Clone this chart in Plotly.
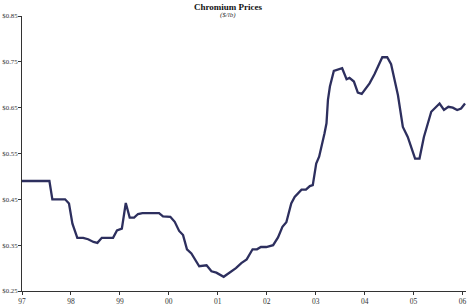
import plotly.graph_objects as go

years = [1997.00, 1997.56, 1997.62, 1997.88, 1997.96, 1998.03, 1998.13, 1998.25, 1998.35, 1998.46,
         1998.54, 1998.63, 1998.86, 1998.94, 1999.04, 1999.12, 1999.20, 1999.29, 1999.37, 1999.46,
         1999.80, 1999.88, 2000.03, 2000.12, 2000.21, 2000.29, 2000.37, 2000.46, 2000.62, 2000.77,
         2000.87, 2000.97, 2001.12, 2001.24, 2001.37, 2001.48, 2001.59, 2001.71, 2001.80, 2001.88,
         2001.99, 2002.13, 2002.23, 2002.32, 2002.40, 2002.50, 2002.57, 2002.71, 2002.80, 2002.88,
         2002.94, 2003.01, 2003.07, 2003.18, 2003.22, 2003.25, 2003.29, 2003.37, 2003.54, 2003.63,
         2003.69, 2003.78, 2003.86, 2003.94, 2004.10, 2004.20, 2004.36, 2004.46, 2004.54, 2004.68,
         2004.78, 2004.88, 2005.03, 2005.12, 2005.21, 2005.36, 2005.53, 2005.62, 2005.71, 2005.80,
         2005.89, 2005.97, 2006.05]
prices = [0.490, 0.490, 0.450, 0.450, 0.441, 0.397, 0.366, 0.366, 0.363, 0.357,
          0.355, 0.366, 0.366, 0.382, 0.386, 0.442, 0.410, 0.410, 0.418, 0.420,
          0.420, 0.413, 0.412, 0.401, 0.381, 0.372, 0.341, 0.332, 0.304, 0.306,
          0.293, 0.290, 0.281, 0.290, 0.300, 0.311, 0.319, 0.341, 0.341, 0.346,
          0.346, 0.350, 0.367, 0.390, 0.400, 0.441, 0.455, 0.471, 0.471, 0.479,
          0.481, 0.528, 0.543, 0.594, 0.616, 0.667, 0.696, 0.730, 0.736, 0.712,
          0.715, 0.707, 0.683, 0.680, 0.703, 0.723, 0.760, 0.760, 0.745, 0.677,
          0.608, 0.586, 0.539, 0.539, 0.586, 0.641, 0.659, 0.645, 0.652, 0.650,
          0.645, 0.648, 0.659]

x_tickvals = [1997, 1998, 1999, 2000, 2001, 2002, 2003, 2004, 2005, 2006]
x_ticktext = ["97", "98", "99", "00", "01", "02", "03", "04", "05", "06"]
y_tickvals = [0.25, 0.35, 0.45, 0.55, 0.65, 0.75, 0.85]
y_ticktext = ["$0.25", "$0.35", "$0.45", "$0.55", "$0.65", "$0.75", "$0.85"]

font_family = "Liberation Serif"

fig = go.Figure()
fig.add_trace(go.Scatter(x=years, y=prices, mode="lines",
                         line=dict(color="#2d2f5e", width=2.3), hoverinfo="skip"))

fig.update_layout(
    width=469, height=305,
    margin=dict(l=22, r=3, t=16, b=14),
    paper_bgcolor="white", plot_bgcolor="white",
    showlegend=False,
    font=dict(family=font_family, size=8, color="#333333"),
    xaxis=dict(range=[1997, 2006.07], tickvals=x_tickvals, ticktext=x_ticktext,
               showgrid=False, zeroline=False, showline=True, linecolor="#333333", linewidth=1,
               ticks="outside", ticklen=3, tickcolor="#333333", tickfont=dict(size=7.5),
               automargin=False),
    yaxis=dict(range=[0.25, 0.85], tickvals=y_tickvals, ticktext=y_ticktext,
               showgrid=False, zeroline=False, showline=True, linecolor="#333333", linewidth=1,
               ticks="outside", ticklen=3, tickcolor="#333333", tickfont=dict(size=6.8),
               ticklabelstandoff=-1, automargin=False),
    annotations=[
        dict(text="<b>Chromium Prices</b>", xref="paper", yref="paper", x=0.464, y=1.0,
             yshift=9, xanchor="center", yanchor="middle", showarrow=False,
             font=dict(family=font_family, size=9, color="#111111")),
        dict(text="<i>($/lb)</i>", xref="paper", yref="paper", x=0.464, y=1.0,
             yshift=1, xanchor="center", yanchor="middle", showarrow=False,
             font=dict(family=font_family, size=7, color="#333333")),
    ],
)

fig.write_html("out.html")
